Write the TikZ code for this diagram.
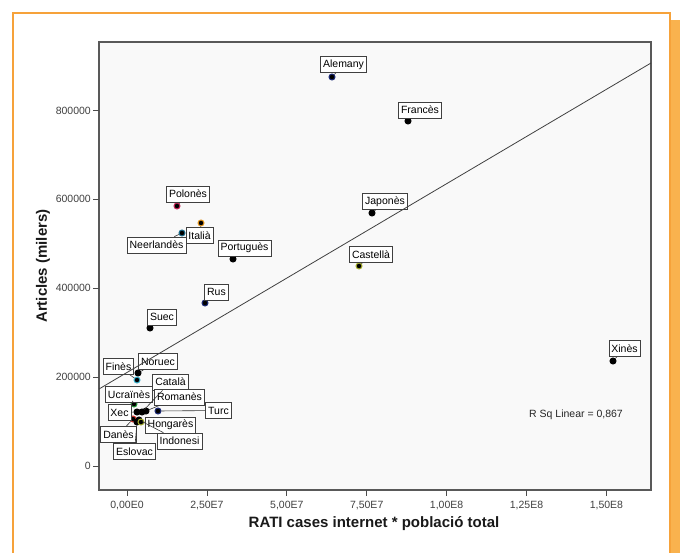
\documentclass[tikz,border=0pt]{standalone}
\usepackage{fontspec}
\setmainfont{Liberation Sans}
\usetikzlibrary{positioning}

\definecolor{taronja}{HTML}{F6A23A}
\definecolor{taronjaombra}{HTML}{F9B24E}
\definecolor{fonsgrafic}{HTML}{F9F9F9}
\definecolor{blaufosc}{HTML}{1C2B78}
\definecolor{carmi}{HTML}{C8285A}
\definecolor{ataronjat}{HTML}{E89A20}
\definecolor{blaumari}{HTML}{1E6F8F}
\definecolor{cian}{HTML}{3BB3CF}
\definecolor{verd}{HTML}{2A9D3F}
\definecolor{vermell}{HTML}{D0302A}
\definecolor{oliva}{HTML}{A8B030}

\tikzset{
  etiqueta/.style={draw=black!75, fill=white, line width=0.7pt, inner xsep=2.5pt, inner ysep=0pt, minimum height=16pt, font=\fontsize{10.5}{12}\selectfont},
  punt/.style={circle, fill=black, draw=#1, line width=1pt, inner sep=0pt, minimum size=6pt},
  punt/.default=black,
  lligam/.style={draw=black!80, line width=0.6pt},
  marcs/.style={font=\fontsize{10.5}{12}\selectfont, text=black!75},
  titol/.style={font=\bfseries\fontsize{15}{17}\selectfont, text=black!90},
}

\begin{document}
\begin{tikzpicture}[x=1pt,y=-1pt]
	\useasboundingbox (0,0) rectangle (682,553);
	% marc taronja
	\fill[taronjaombra] (670,20) rectangle (680,553);
	\draw[taronja, line width=1.2pt] (13,553) -- (13,13) -- (670,13) -- (670,553);
	% area del grafic
	\draw[fill=fonsgrafic, draw=black!65, line width=1.3pt] (99,42) rectangle (651,490);

	\foreach \v [count=\i from 0] in {0,200000,400000,600000,800000} {
	     \draw[black!70, line width=0.8pt] (93,{466-88.9*\i}) -- (99,{466-88.9*\i});
	     \node[marcs, anchor=east, inner sep=1pt] (ty\i) at (92,{466-88.9*\i}) {\v};
 	}
	\foreach \t [count=\i from 0] in {{0,00E0},{2,50E7},{5,00E7},{7,50E7},{1,00E8},{1,25E8},{1,50E8}} {
	     \draw[black!70, line width=0.8pt] ({127+79.9*\i},490) -- ({127+79.9*\i},496);
	     \node[marcs] (tx\i) at ({127+79.9*\i},506) {\t};
 	}

	\node[titol, rotate=90] (titoly) at (43,266) {Articles (milers)};
	\node[titol] (titolx) at (374,524) {RATI cases internet * població total};
	\node[marcs, text=black!85] (rsq) at (576,415) {R Sq Linear = 0,867};

	% punts
	\node[punt=blaufosc] (dAlemany) at (332,77) {};
	\node[punt] (dFrances) at (408,121) {};
	\node[punt] (dJapones) at (372,213) {};
	\node[punt=oliva] (dCastella) at (359,266) {};
	\node[punt] (dXines) at (613,361) {};
	\node[punt=carmi] (dPolones) at (177,206) {};
	\node[punt=ataronjat] (dItalia) at (201,223) {};
	\node[punt=blaumari] (dNeerlandes) at (182,233) {};
	\node[punt] (dPortugues) at (233,259) {};
	\node[punt=blaufosc] (dRus) at (205,303) {};
	\node[punt] (dSuec) at (150,328) {};
	\node[punt] (dNoruec) at (138,373) {};
	\node[punt=cian] (dFines) at (137,380) {};
	\node[punt=verd] (dUcraines) at (134,404) {};
	\node[punt] (dXec) at (137,412) {};
	\node[punt] (dCatala) at (142,412) {};
	\node[punt] (dRomanes) at (146,411) {};
	\node[punt=blaufosc] (dTurc) at (158,411) {};
	\node[punt=vermell] (dDanes) at (133,419) {};
	\node[punt] (dIndonesi) at (139,420) {};
	\node[punt] (dEslovac) at (137,422) {};
	\node[punt=oliva] (dHongares) at (141,422) {};

	% etiquetes
	\node[etiqueta] (lAlemany) at (343.5,64.5) {Alemany};
	\node[etiqueta] (lFrances) at (420,110) {Francès};
	\node[etiqueta] (lJapones) at (385,201.5) {Japonès};
	\node[etiqueta] (lCastella) at (371,254.5) {Castellà};
	\node[etiqueta] (lXines) at (624.5,348.5) {Xinès};
	\node[etiqueta] (lPolones) at (188,194) {Polonès};
	\node[etiqueta] (lItalia) at (199.5,235.5) {Italià};
	\node[etiqueta] (lNeerlandes) at (156.5,245) {Neerlandès};
	\node[etiqueta] (lPortugues) at (244.5,248) {Portuguès};
	\node[etiqueta] (lRus) at (216.5,292) {Rus};
	\node[etiqueta] (lSuec) at (162,317) {Suec};
	\node[etiqueta] (lFines) at (118.5,366.5) {Finès};
	\node[etiqueta] (lNoruec) at (158,361.5) {Noruec};
	\node[etiqueta] (lCatala) at (170.5,382) {Català};
	\node[etiqueta] (lUcraines) at (129,394.5) {Ucraïnès};
	\node[etiqueta] (lRomanes) at (179.5,397) {Romanès};
	\node[etiqueta] (lTurc) at (218.5,410.5) {Turc};
	\node[etiqueta] (lXec) at (119.5,412.5) {Xec};
	\node[etiqueta] (lHongares) at (170.5,425) {Hongarès};
	\node[etiqueta] (lDanes) at (118.5,434.5) {Danès};
	\node[etiqueta] (lIndonesi) at (179.5,441) {Indonesi};
	\node[etiqueta] (lEslovac) at (134.5,451.5) {Eslovac};

	\foreach \n in {Alemany,Frances,Japones,Castella,Xines,Polones,Italia,Neerlandes,Portugues,Rus,Suec,Fines,Noruec,Catala,Ucraines,Romanes,Turc,Xec,Hongares,Danes,Indonesi,Eslovac} {
	     \draw[lligam] (d\n) -- (l\n);
 	}

	% recta d'ajust
	\coordinate (ajustA) at (99,389);
	\coordinate (ajustB) at (651,63);
	\draw[black!75, line width=0.8pt] (ajustA) -- (ajustB);
\end{tikzpicture}
\end{document}
